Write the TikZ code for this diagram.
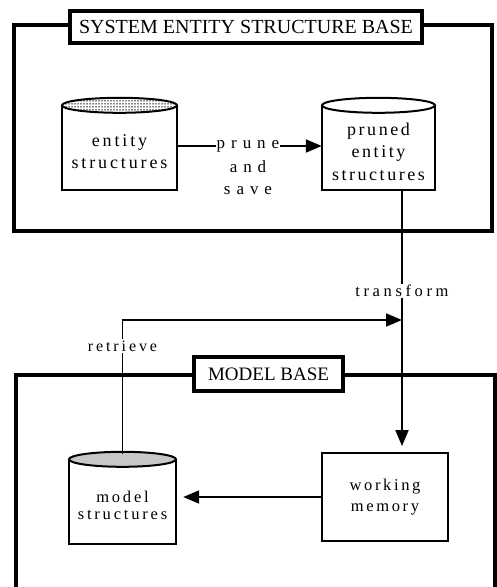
\documentclass[tikz,border=0pt]{standalone}
\usepackage{fontspec}
\setmainfont{Liberation Serif}
\usetikzlibrary{arrows.meta,patterns.meta}
\begin{document}
\begin{tikzpicture}[x=1pt,y=-1pt,
  frame/.style={line width=3.2pt},
  titlebox/.style={draw, line width=3.4pt, fill=white, inner sep=0pt},
  body/.style={inner sep=0pt, align=center},
  cylline/.style={line width=2pt},
  conn/.style={line width=1.9pt},
  tip/.style={-{Triangle[length=16pt,width=13pt]}},
  lbl/.style={inner sep=1pt, align=center, font={\fontsize{16.5}{20}\selectfont\addfontfeature{LetterSpace=22}}},
  widelbl/.style={inner sep=1pt, align=center, font={\fontsize{17}{22}\selectfont\addfontfeature{LetterSpace=35}}}]
\useasboundingbox (0,0) rectangle (496,587);

% top frame
\draw[frame] (14,25) rectangle (492,231);
\node[titlebox, minimum width=352pt, minimum height=32pt, font=\fontsize{20}{22}\selectfont] (sesb) at (246,27) {SYSTEM ENTITY STRUCTURE BASE};

% entity structures
\node[body, minimum width=115pt, minimum height=77pt, font={\fontsize{18}{22}\selectfont\addfontfeature{LetterSpace=16}}] (es) at (119.5,151.5) {entity\\structures};
\draw[cylline] ([yshift=7.5pt]es.north west) -- (es.south west) -- (es.south east) -- ([yshift=7.5pt]es.north east);
\draw[cylline, pattern={Dots[distance=3pt, radius=0.75pt]}] ([yshift=7.5pt]es.north) ellipse [x radius=57.5pt, y radius=7.5pt];

% pruned entity structures
\node[body, minimum width=113pt, minimum height=77pt, font={\fontsize{18}{22.5}\selectfont\addfontfeature{LetterSpace=14}}] (pes) at (378.5,151.5) {pruned\\entity\\structures};
\draw[cylline] ([yshift=7.5pt]pes.north west) -- (pes.south west) -- (pes.south east) -- ([yshift=7.5pt]pes.north east);
\draw[cylline, fill=white] ([yshift=7.5pt]pes.north) ellipse [x radius=56.5pt, y radius=7.5pt];

% prune and save
\node[widelbl] (prune) at (248,146) {prune};
\node[widelbl] (andsave) at (248,178) {and\\save};
\draw[conn] (prune.west -| es.east) -- (prune.west);
\draw[conn, tip] (prune.east) -- (prune.east -| pes.west);

% model base frame
\draw[frame] (16,587) -- (16,375) -- (495,375) -- (495,587);
\node[titlebox, minimum width=149pt, minimum height=34pt, font=\fontsize{19}{22}\selectfont] (mb) at (268.5,374) {MODEL BASE};

% transform
\node[lbl] (trans) at (402,291) {transform};
\coordinate (jy) at (0,320);
\coordinate (join) at (trans |- jy);

% working memory
\node[body, draw, line width=1.9pt, minimum width=126pt, minimum height=88pt, font={\fontsize{16.5}{21}\selectfont\addfontfeature{LetterSpace=16}}] (wm) at (385,497) {working\\memory};

% model structures
\node[body, minimum width=107pt, minimum height=77pt, font={\fontsize{16.5}{16.5}\selectfont\addfontfeature{LetterSpace=17}}] (ms) at (122.5,505.5) {model\\structures};
\draw[cylline] ([yshift=7.5pt]ms.north west) -- (ms.south west) -- (ms.south east) -- ([yshift=7.5pt]ms.north east);
\draw[cylline, fill=black!22] ([yshift=7.5pt]ms.north) ellipse [x radius=53.5pt, y radius=7.5pt];

% connectors
\draw[conn] (pes.south -| trans) -- (trans.north);
\draw[conn, tip, shorten >=6pt] (trans.south) -- (trans.south |- wm.north);
\draw[conn, tip, shorten >=7pt] (wm.west) -- (wm.west -| ms.east);

% retrieve
\node[lbl, font={\fontsize{16}{20}\selectfont\addfontfeature{LetterSpace=18}}] (retr) at (122.5,346) {retrieve};
\draw[conn] ([yshift=13pt]ms.north) -- (retr.south);
\draw[conn, tip] (retr.north) |- (join);
\end{tikzpicture}
\end{document}
